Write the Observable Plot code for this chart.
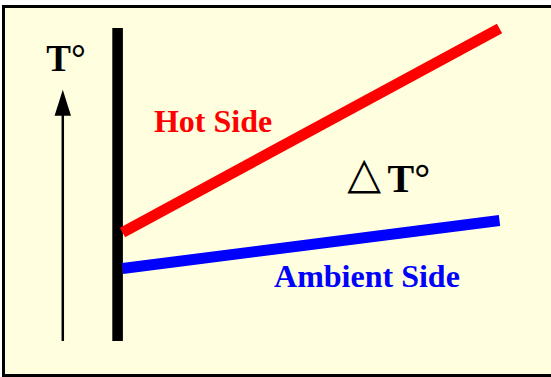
<!DOCTYPE html>
<html><head><meta charset="utf-8">
<script src="https://cdn.jsdelivr.net/npm/d3@7"></script>
<script src="https://cdn.jsdelivr.net/npm/@observablehq/plot@0.6"></script>
<style>
html,body{margin:0;padding:0;background:#fff;overflow:hidden;width:551px;height:377px;}
#frame{position:absolute;left:2px;top:5px;width:600px;height:372px;box-sizing:border-box;border:3px solid #000;background:#ffffe0;}
#chart{position:absolute;left:0;top:0;}
</style></head><body><div id="frame"></div><div id="chart"></div>
<script>
// distance from the wall (arbitrary units) and temperatures (arbitrary units)
const distance = [0, 10];
const hotSide = [15, 100];
const ambientSide = [0, 20];
// wall and temperature axis arrow
const wallX = -0.13;
const wallRange = [-30.4, 100];
const arrowX = -1.584;
const arrowRange = [-30.4, 74.5];
// labels
const labelNames = ["T°", "Hot Side", "△", "T°", "Ambient Side"];
const labelX = [-2.02, 0.835, 5.96, 7.03, 4.02];
const labelT = [82.1, 56.7, 33.6, 31.7, -7.9];

const hotData = distance.map((d, i) => ({x: d, t: hotSide[i]}));
const ambData = distance.map((d, i) => ({x: d, t: ambientSide[i]}));
const wall = [{x: wallX, y1: wallRange[0], y2: wallRange[1]}];
const arrow = [{x: arrowX, y1: arrowRange[0], y2: arrowRange[1]}];
const labels = labelNames.map((s, i) => ({s, x: labelX[i], t: labelT[i]}));

const arrowHead = {draw(ctx) { ctx.moveTo(0, 0); ctx.lineTo(-8.2, 26); ctx.lineTo(8.2, 26); ctx.closePath(); }};
const serif = "'Liberation Serif','Times New Roman',Times,serif";

function label(i, opts) {
  return Plot.text([labels[i]], {x: "x", y: "t", text: "s", textAnchor: "start", lineAnchor: "bottom",
    fontFamily: serif, fontWeight: "bold", ...opts});
}

const chart = Plot.plot({
  width: 551, height: 377,
  marginLeft: 122, marginRight: 52, marginTop: 28, marginBottom: 109,
  x: {domain: [0, 10], axis: null},
  y: {domain: [0, 100], axis: null},
  style: {background: "transparent", overflow: "visible"},
  marks: [
    Plot.ruleX(arrow, {x: "x", y1: "y1", y2: d => d.y2 - 8, stroke: "#000", strokeWidth: 2.5}),
    Plot.dot(arrow, {x: "x", y: "y2", symbol: arrowHead, fill: "#000", stroke: "none"}),
    Plot.ruleX(wall, {x: "x", y1: "y1", y2: "y2", stroke: "#000", strokeWidth: 10.6}),
    Plot.line(hotData, {x: "x", y: "t", stroke: "#ff0000", strokeWidth: 11, strokeLinecap: "butt"}),
    Plot.line(ambData, {x: "x", y: "t", stroke: "#0000ff", strokeWidth: 11, strokeLinecap: "butt"}),
    label(0, {fill: "#000", fontSize: 37}),
    label(1, {fill: "#ff0000", fontSize: 32}),
    label(2, {fill: "#000", fontSize: 44, fontWeight: "normal", fontFamily: "'DejaVu Sans'"}),
    label(3, {fill: "#000", fontSize: 40}),
    label(4, {fill: "#0000ff", fontSize: 32})
  ]
});
document.getElementById("chart").append(chart);
</script></body></html>
